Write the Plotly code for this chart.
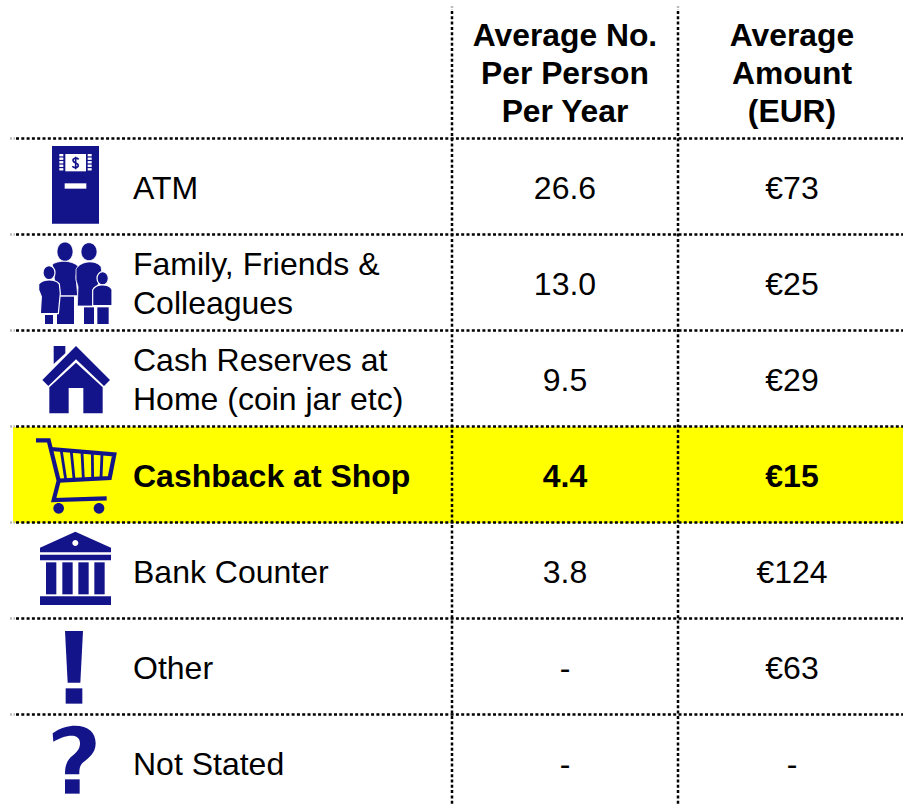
import re
import plotly.graph_objects as go

# ---- data ----
categories = ["ATM", "Family, Friends &<br>Colleagues", "Cash Reserves at<br>Home (coin jar etc)",
              "Cashback at Shop", "Bank Counter", "Other", "Not Stated"]
avg_number = ["26.6", "13.0", "9.5", "4.4", "3.8", "-", "-"]
avg_amount = ["€73", "€25", "€29", "€15", "€124", "€63", "-"]
header_number = ["Average No.", "Per Person", "Per Year"]
header_amount = ["Average", "Amount", "(EUR)"]
highlight_row = 3

W, H = 903, 806
ROW_H = 96
ROW0 = 187
NAVY = "#14148a"
FONT = "Liberation Sans"
TS = 32
HS = 31.8
TEXT_DY = 3.7 / ROW_H


def ry(px):
    return (px - ROW0) / ROW_H


def pth(d, ox, oy, s=1 / 3):
    """Convert an icon path drawn in zoomed pixels to data coordinates."""
    toks = re.findall(r"[MLCZ]|-?[\d.]+", d)
    out, i = [], 0
    while i < len(toks):
        t = toks[i]
        if t in "MLCZ":
            out.append(t)
            i += 1
        else:
            x, y = float(toks[i]), float(toks[i + 1])
            out.append(f"{x * s + ox:.2f},{ry(y * s + oy):.4f}")
            i += 2
    return " ".join(out)


def rect(x0, y0, x1, y1):
    return f"M{x0},{y0} L{x1},{y0} L{x1},{y1} L{x0},{y1} Z"


def ell(cx, cy, rx, ry_):
    k = 0.5523
    return (f"M{cx - rx},{cy} C{cx - rx},{cy - k * ry_} {cx - k * rx},{cy - ry_} {cx},{cy - ry_} "
            f"C{cx + k * rx},{cy - ry_} {cx + rx},{cy - k * ry_} {cx + rx},{cy} "
            f"C{cx + rx},{cy + k * ry_} {cx + k * rx},{cy + ry_} {cx},{cy + ry_} "
            f"C{cx - k * rx},{cy + ry_} {cx - rx},{cy + k * ry_} {cx - rx},{cy} Z")


shapes = []


def add(d, ox, oy, fill=NAVY, line=None, lw=0):
    shapes.append(dict(type="path", xref="x", yref="y", path=pth(d, ox, oy),
                       fillcolor=fill, line=dict(color=line or "rgba(0,0,0,0)", width=lw), layer="above"))


def stroke(d, ox, oy, color=NAVY, lw=4):
    shapes.append(dict(type="path", xref="x", yref="y", path=pth(d, ox, oy),
                       fillcolor="rgba(0,0,0,0)", line=dict(color=color, width=lw), layer="above"))


# highlight band
shapes.append(dict(type="rect", xref="x", yref="y", x0=13, x1=W,
                   y0=highlight_row - 0.5, y1=highlight_row + 0.5,
                   fillcolor="#ffff00", line=dict(width=0), layer="below"))
# rules
for i in range(len(categories)):
    shapes.append(dict(type="line", xref="x", yref="y", x0=16, x1=W, y0=i - 0.505, y1=i - 0.505,
                       line=dict(color="#000", width=2.5, dash="3px,2.3px"), layer="below"))
    shapes.append(dict(type="line", xref="x", yref="y", x0=10, x1=15, y0=i - 0.505, y1=i - 0.505,
                       line=dict(color="#bbbbbb", width=2.5, dash="2px,1.5px"), layer="below"))
for vx in (452, 678):
    shapes.append(dict(type="line", xref="x", yref="y", x0=vx, x1=vx, y0=ry(11), y1=ry(806),
                       line=dict(color="#000", width=2.5, dash="3px,2.3px"), layer="below"))
    shapes.append(dict(type="line", xref="x", yref="y", x0=vx, x1=vx, y0=ry(6), y1=ry(10),
                       line=dict(color="#bbbbbb", width=2.5, dash="2px,1.5px"), layer="below"))

# ATM icon
O = (0, 130)
add(rect(156, 48, 297, 281), *O)
add(rect(196, 72, 258, 124), *O, fill="white")
add(rect(194, 160, 259, 176), *O, fill="white")
for k in range(5):
    yy = 72 + k * 10.6
    add(rect(178, yy, 190, yy + 7), *O, fill="white")
    add(rect(263, yy, 275, yy + 7), *O, fill="white")
stroke("M236,88 C230,82 218,84 219,92 C220,100 235,98 235,106 C235,114 222,115 217,109 M227,80 L227,118",
       *O, lw=1.6)

# Family icon
WHT = "white"
add(ell(195, 365, 24, 29), *O, line=WHT, lw=0.8)
add(ell(267, 365, 24, 27), *O, line=WHT, lw=0.8)
add("M157,403 C175,390 215,390 234,408 L228,440 L233,497 L160,497 L165,460 Z", *O, line=WHT, lw=0.8)
add(rect(171, 500, 222, 582), *O)
add("M228,418 C240,392 288,388 303,410 L308,440 L290,470 L280,528 L232,528 L234,470 L228,450 Z", *O,
    line=WHT, lw=0.8)
add(rect(252, 532, 282, 582), *O)
add(rect(292, 532, 326, 582), *O)
add(ell(147, 428, 18, 21), *O, line=WHT, lw=1.2)
add("M116,462 C130,446 165,446 178,462 L181,490 L175,551 L121,551 L124,500 L116,480 Z", *O, line=WHT, lw=1.2)
add(rect(135, 555, 159, 582), *O)
add(ell(308, 445, 17, 20), *O, line=WHT, lw=1.2)
add("M278,480 C288,460 325,460 336,478 L336,527 L278,527 Z", *O, line=WHT, lw=1.2)

# House icon
O = (0, 330)
add("M161,48 L196,48 L196,70 L161,102 Z", *O)
add("M228,48 L330,150 L312,168 L228,88 L145,168 L127,150 Z", *O)
add("M148,172 L228,98 L308,172 L308,250 L250,250 L250,174 L206,174 L206,250 L148,250 Z", *O)

# Cart icon
stroke("M108,331 L146,331 L176,452 L161,510 L320,505", *O, lw=4.2)
stroke("M153,357 L343,373 L329,444 L176,452", *O, lw=4.2)
for a, b in [((184, 363), (197, 448)), ((214, 366), (222, 446)), ((246, 368), (250, 445)),
             ((277, 370), (278, 444)), ((306, 372), (303, 443))]:
    stroke(f"M{a[0]},{a[1]} L{b[0]},{b[1]}", *O, lw=2.8)
add(ell(176, 535, 16, 16), *O)
add(ell(297, 535, 16, 16), *O)

# Bank icon
O = (0, 525)
add("M226,20 L333,68 L333,82 L120,82 L120,68 Z", *O)
add(ell(226, 54, 9, 9), *O, fill="white")
add(rect(120, 89, 333, 106), *O)
for cx0 in (138, 187, 235, 283):
    add(rect(cx0, 112, cx0 + 31, 208), *O)
add(rect(120, 214, 333, 240), *O)

# Exclamation icon
add("M195,318 L249,318 L241,473 L203,473 Z", *O)
add(rect(197, 490, 247, 536), *O)

# Question icon
add("M158,625 C180,608 205,602 225,602 C265,602 287,622 287,655 C287,685 265,700 250,712 "
    "C240,720 238,730 238,748 L195,748 C195,722 200,705 220,690 C235,678 240,668 240,655 "
    "C240,640 230,632 215,632 C195,632 178,640 160,650 Z", *O)
add(rect(195, 763, 239, 806), *O)


def fmt(t, i):
    return f"<b>{t}</b>" if i == highlight_row else t


fig = go.Figure()

# row labels (wrapped lines placed separately to hold the reference's line spacing)
lab_x, lab_y, lab_t = [], [], []
for i, c in enumerate(categories):
    parts = c.split("<br>")
    for j, p in enumerate(parts):
        lab_x.append(133)
        lab_y.append(i + TEXT_DY + (j - (len(parts) - 1) / 2) * 39 / ROW_H)
        lab_t.append(fmt(p, i))
fig.add_trace(go.Scatter(x=lab_x, y=lab_y, text=lab_t, mode="text", textposition="middle right",
                         textfont=dict(family=FONT, size=TS, color="black"), hoverinfo="skip"))

for col_x, vals, head in [(565, avg_number, header_number), (792, avg_amount, header_amount)]:
    fig.add_trace(go.Scatter(x=[col_x] * len(vals), y=[i + TEXT_DY for i in range(len(vals))],
                             text=[fmt(v, i) for i, v in enumerate(vals)],
                             mode="text", textposition="middle center",
                             textfont=dict(family=FONT, size=TS, color="black"), hoverinfo="skip"))
    fig.add_trace(go.Scatter(x=[col_x] * len(head), y=[ry(35 + 38 * k) + 3 / ROW_H for k in range(len(head))],
                             text=[f"<b>{h}</b>" for h in head],
                             mode="text", textposition="middle center",
                             textfont=dict(family=FONT, size=HS, color="black"), hoverinfo="skip"))

fig.update_layout(
    width=W, height=H, margin=dict(l=0, r=0, t=0, b=0), showlegend=False,
    paper_bgcolor="white", plot_bgcolor="white", shapes=shapes,
    xaxis=dict(range=[0, W], visible=False, fixedrange=True),
    yaxis=dict(range=[ry(H), ry(0)], visible=False, fixedrange=True),
)
fig.write_html("out.html", config=dict(displayModeBar=False),
               post_script="document.body.style.margin='0';document.documentElement.style.overflow='hidden';")
